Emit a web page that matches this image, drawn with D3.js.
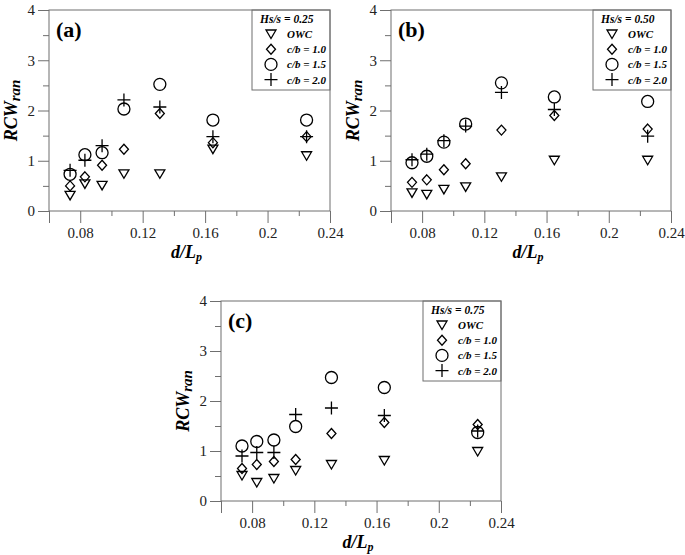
<!DOCTYPE html>
<html>
<head>
<meta charset="utf-8">
<script src="https://cdn.jsdelivr.net/npm/d3@7"></script>
<style>
  body { margin: 0; background: #fff; }
  svg text { font-family: "Liberation Serif", "Times New Roman", Times, "Tinos", serif; }
  .axis-line { stroke: #6f6f6f; stroke-width: 1; fill: none; }
  .mark { fill: none; stroke: #000; stroke-width: 1.3; }
</style>
</head>
<body>
<svg width="685" height="555"></svg>
<script>
// x values (d/Lp) shared by all panels
const dLp = [0.0735, 0.083, 0.094, 0.108, 0.131, 0.165, 0.225];
const seriesNames = ["OWC", "c/b = 1.0", "c/b = 1.5", "c/b = 2.0"];
const seriesShapes = ["tri", "diamond", "circle", "plus"];
const panelLabels = ["(a)", "(b)", "(c)"];
const hsRatios = ["Hs/s = 0.25", "Hs/s = 0.50", "Hs/s = 0.75"];
const xTicks = [0.06, 0.08, 0.1, 0.12, 0.14, 0.16, 0.18, 0.2, 0.22, 0.24];
const xTickLabels = ["", "0.08", "", "0.12", "", "0.16", "", "0.2", "", "0.24"];
const yTicks = [0, 0.5, 1, 1.5, 2, 2.5, 3, 3.5, 4];

// RCWran values, panel (a) Hs/s = 0.25
const owcA = [0.31, 0.54, 0.51, 0.74, 0.74, 1.23, 1.10];
const cb10A = [0.50, 0.68, 0.91, 1.23, 1.94, 1.36, 1.48];
const cb15A = [0.73, 1.12, 1.16, 2.03, 2.52, 1.81, 1.81];
const cb20A = [0.81, 1.01, 1.30, 2.21, 2.07, 1.48, 1.48];

// panel (b) Hs/s = 0.50
const owcB = [0.36, 0.33, 0.43, 0.48, 0.68, 1.01, 1.01];
const cb10B = [0.57, 0.62, 0.82, 0.94, 1.61, 1.90, 1.63];
const cb15B = [0.96, 1.09, 1.37, 1.73, 2.55, 2.27, 2.18];
const cb20B = [1.02, 1.13, 1.40, 1.69, 2.36, 2.02, 1.49];

// panel (c) Hs/s = 0.75
const owcC = [0.51, 0.37, 0.45, 0.61, 0.73, 0.81, 0.99];
const cb10C = [0.65, 0.73, 0.79, 0.83, 1.35, 1.57, 1.53];
const cb15C = [1.10, 1.19, 1.22, 1.49, 2.47, 2.27, 1.37];
const cb20C = [0.90, 0.97, 0.97, 1.73, 1.86, 1.71, 1.40];

const panelData = [
  [owcA, cb10A, cb15A, cb20A],
  [owcB, cb10B, cb15B, cb20B],
  [owcC, cb10C, cb15C, cb20C]
];

// plot frames
const frames = [
  { left: 49, top: 10, width: 281, height: 201 },
  { left: 391, top: 10, width: 280, height: 201 },
  { left: 221, top: 301, width: 280, height: 200 }
];

const svg = d3.select("svg");

// marker paths
function markerPath(shape) {
  if (shape === "tri") return "M-5,-4L5,-4L0,4.5Z";
  if (shape === "diamond") return "M0,-5L4.5,0L0,5L-4.5,0Z";
  if (shape === "circle") return d3.symbol(d3.symbolCircle, Math.PI * 36)();
  return "M-6.5,0H6.5M0,-6.5V6.5";
}

function drawPanel(idx) {
  const f = frames[idx];
  const g = svg.append("g").attr("transform", `translate(${f.left},${f.top})`);

  const x = d3.scaleLinear().domain([0.06, 0.24]).range([0, f.width]);
  const y = d3.scaleLinear().domain([0, 4]).range([f.height, 0]);

  // box
  g.append("rect")
    .attr("class", "axis-line")
    .attr("width", f.width)
    .attr("height", f.height);

  // y axis
  const yAxis = d3.axisLeft(y)
    .tickValues(yTicks)
    .tickSizeInner(0)
    .tickSizeOuter(0)
    .tickFormat(d => Number.isInteger(d) ? d : "");
  const ya = g.append("g").call(yAxis).attr("font-family", null);
  ya.select(".domain").remove();
  ya.selectAll(".tick line")
    .attr("x2", d => Number.isInteger(d) ? -11 : -6)
    .attr("stroke", "#6f6f6f");
  ya.selectAll(".tick text")
    .attr("x", -14)
    .style("font-size", "15px")
    .attr("fill", "#222");

  // x axis
  const xAxis = d3.axisBottom(x)
    .tickValues(xTicks)
    .tickSizeInner(0)
    .tickSizeOuter(0)
    .tickFormat((d, i) => xTickLabels[i]);
  const xa = g.append("g").attr("transform", `translate(0,${f.height})`).call(xAxis).attr("font-family", null);
  xa.select(".domain").remove();
  xa.selectAll(".tick line")
    .attr("y2", (d, i) => xTickLabels[i] || i === 0 ? 12 : 5)
    .attr("stroke", "#6f6f6f");
  xa.selectAll(".tick text")
    .attr("y", 16)
    .style("font-size", "15px")
    .attr("fill", "#222");

  // axis titles
  g.append("text")
    .attr("transform", `translate(${-32},${f.height / 2}) rotate(-90)`)
    .attr("text-anchor", "middle")
    .style("font-weight", "bold")
    .style("font-style", "italic")
    .style("font-size", "18px")
    .text("RCW")
    .append("tspan")
    .attr("dy", 3)
    .style("font-size", "15px")
    .text("ran");

  const xl = g.append("text")
    .attr("x", f.width / 2 - 3)
    .attr("y", f.height + 47)
    .attr("text-anchor", "middle")
    .style("font-weight", "bold")
    .style("font-style", "italic")
    .style("font-size", "18px")
    .text("d/L");
  xl.append("tspan").attr("dy", 3).style("font-size", "12px").text("p");

  // panel label
  g.append("text")
    .attr("x", 7)
    .attr("y", 27)
    .style("font-weight", "bold")
    .style("font-size", "22px")
    .text(panelLabels[idx]);

  // data marks
  panelData[idx].forEach((vals, s) => {
    g.selectAll(null)
      .data(vals)
      .enter()
      .append("path")
      .attr("class", "mark")
      .attr("transform", (d, i) => `translate(${x(dLp[i])},${y(d)})`)
      .attr("d", markerPath(seriesShapes[s]));
  });

  // legend
  const lw = 78, lh = 80;
  const lg = g.append("g").attr("transform", `translate(${f.width - lw},0)`);
  lg.append("rect")
    .attr("class", "axis-line")
    .attr("width", lw)
    .attr("height", lh);
  lg.append("text")
    .attr("x", 8)
    .attr("y", 13)
    .style("font-weight", "bold")
    .style("font-style", "italic")
    .style("font-size", "11.5px")
    .text(hsRatios[idx]);
  seriesNames.forEach((name, s) => {
    const ry = 24 + s * 15.2;
    lg.append("path")
      .attr("class", "mark")
      .attr("transform", `translate(19,${ry})`)
      .attr("d", markerPath(seriesShapes[s]));
    lg.append("text")
      .attr("x", 35)
      .attr("y", ry + 4)
      .style("font-weight", "bold")
      .style("font-style", "italic")
      .style("font-size", "11px")
      .text(name);
  });
}

[0, 1, 2].forEach(drawPanel);
</script>
</body>
</html>
